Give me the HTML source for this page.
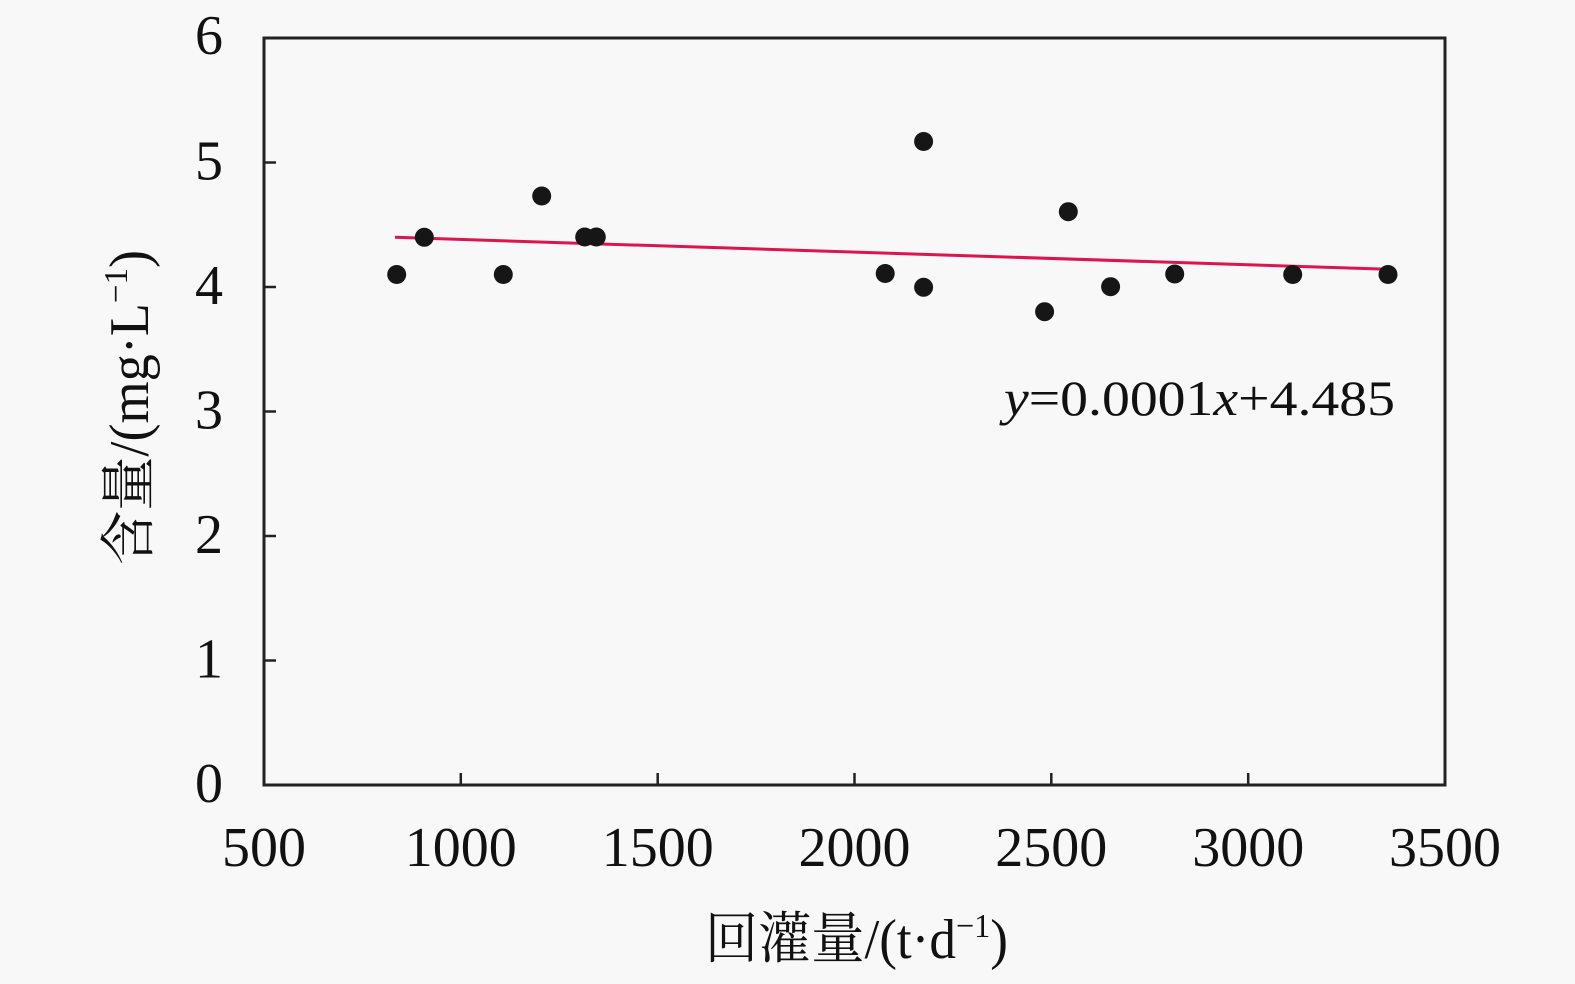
<!DOCTYPE html>
<html>
<head>
<meta charset="utf-8">
<style>
  html, body { margin:0; padding:0; background:#f8f8f8; }
  svg { display:block; }
  text { font-family: "Liberation Serif", "Noto Serif CJK SC", "Noto Sans CJK SC", serif; fill:#111; }
</style>
</head>
<body>
<svg width="1575" height="984" viewBox="0 0 1575 984" xmlns="http://www.w3.org/2000/svg">
  <rect x="0" y="0" width="1575" height="984" fill="#f8f8f8"/>

  <!-- ticks -->
  <g stroke="#222" stroke-width="2.5">
    <line x1="264" y1="660.5" x2="276" y2="660.5"/>
    <line x1="264" y1="536" x2="276" y2="536"/>
    <line x1="264" y1="411.5" x2="276" y2="411.5"/>
    <line x1="264" y1="287" x2="276" y2="287"/>
    <line x1="264" y1="162.5" x2="276" y2="162.5"/>
    <line x1="460.8" y1="785" x2="460.8" y2="773"/>
    <line x1="657.7" y1="785" x2="657.7" y2="773"/>
    <line x1="854.5" y1="785" x2="854.5" y2="773"/>
    <line x1="1051.3" y1="785" x2="1051.3" y2="773"/>
    <line x1="1248.2" y1="785" x2="1248.2" y2="773"/>
  </g>

  <!-- frame -->
  <rect x="264" y="38" width="1181" height="747" fill="none" stroke="#222" stroke-width="3"/>

  <!-- trend line -->
  <line x1="395" y1="237.3" x2="1388" y2="269.3" stroke="#dc1450" stroke-width="3"/>

  <!-- points -->
  <g fill="#161616">
    <circle cx="396.7" cy="274.5" r="9.5"/>
    <circle cx="424.3" cy="237.3" r="9.5"/>
    <circle cx="503.3" cy="274.5" r="9.5"/>
    <circle cx="541.7" cy="196" r="9.5"/>
    <circle cx="584.7" cy="237" r="9.5"/>
    <circle cx="596.3" cy="237" r="9.5"/>
    <circle cx="885.2" cy="273.5" r="9.5"/>
    <circle cx="923.6" cy="141.5" r="9.5"/>
    <circle cx="923.6" cy="287.3" r="9.5"/>
    <circle cx="1044.6" cy="311.7" r="9.5"/>
    <circle cx="1068.3" cy="211.7" r="9.5"/>
    <circle cx="1110.6" cy="286.7" r="9.5"/>
    <circle cx="1174.7" cy="274" r="9.5"/>
    <circle cx="1292.7" cy="274.5" r="9.5"/>
    <circle cx="1388" cy="274.5" r="9.5"/>
  </g>

  <!-- y tick labels -->
  <g font-size="56" text-anchor="middle">
    <text x="209" y="802">0</text>
    <text x="209" y="677.5">1</text>
    <text x="209" y="553">2</text>
    <text x="209" y="428.5">3</text>
    <text x="209" y="304">4</text>
    <text x="209" y="179.5">5</text>
    <text x="209" y="54">6</text>
  </g>

  <!-- x tick labels -->
  <g font-size="56" text-anchor="middle">
    <text x="264" y="866">500</text>
    <text x="460.8" y="866">1000</text>
    <text x="657.7" y="866">1500</text>
    <text x="854.5" y="866">2000</text>
    <text x="1051.3" y="866">2500</text>
    <text x="1248.2" y="866">3000</text>
    <text x="1445" y="866">3500</text>
  </g>

  <!-- equation -->
  <text x="1004" y="415" font-size="50" textLength="391" lengthAdjust="spacingAndGlyphs"><tspan font-style="italic">y</tspan>=0.0001<tspan font-style="italic">x</tspan>+4.485</text>

  <!-- x axis title -->
  <text x="705" y="958" font-size="56" textLength="303" lengthAdjust="spacingAndGlyphs">回灌量/(t·d<tspan font-size="34" dy="-21">−1</tspan><tspan dy="21">)</tspan></text>

  <!-- y axis title -->
  <text transform="translate(148,565) rotate(-90)" font-size="56" textLength="315" lengthAdjust="spacingAndGlyphs">含量/(mg·L<tspan font-size="34" dy="-21">−1</tspan><tspan dy="21">)</tspan></text>
</svg>
</body>
</html>
